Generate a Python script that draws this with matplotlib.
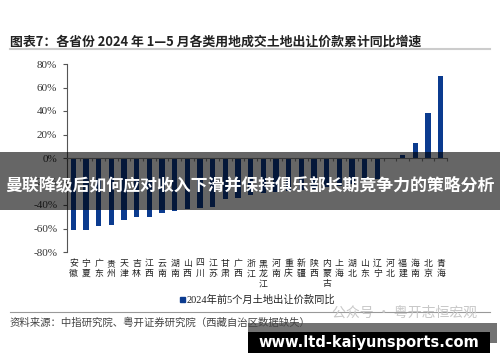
import numpy as np
import matplotlib.pyplot as plt
from matplotlib.patches import Rectangle
from matplotlib.transforms import blended_transform_factory

plt.rcParams['font.family'] = ['Noto Sans CJK SC', 'DejaVu Sans']

# data: 2024年1-5月土地出让价款累计同比 (%)
provinces = ['安徽', '宁夏', '广东', '贵州', '天津', '吉林', '江西', '云南', '湖南', '山西',
             '四川', '江苏', '甘肃', '广西', '浙江', '黑龙江', '河南', '重庆', '新疆', '陕西',
             '内蒙古', '上海', '湖北', '山东', '辽宁', '河北', '福建', '海南', '北京', '青海']
growth = [-61, -61, -57.5, -57, -53, -50.5, -50.5, -46.5, -45, -43,
          -42.5, -42, -35, -34, -31.5, -30, -29, -28, -27, -26,
          -25, -24, -22, -18.5, -18, -1, 2.5, 12.8, 38.5, 69.7]
yticks = [-80, -60, -40, -20, 0, 20, 40, 60, 80]
title = '图表7：各省份 2024 年 1—5 月各类用地成交土地出让价款累计同比增速'
legend_label = '2024年前5个月土地出让价款同比'
source = '资料来源：中指研究院、粤开证券研究院（西藏自治区数据缺失）'

W, H = 500, 362
fig = plt.figure(figsize=(W / 100, H / 100), dpi=100)
fig.patch.set_facecolor('white')

def px(x, y):
    # pixel coords (top-left origin) -> figure fraction
    return x / W, 1 - y / H

ax_left, ax_right, ax_top, ax_bot = 67, 447, 64, 252
ax = fig.add_axes([ax_left / W, 1 - ax_bot / H, (ax_right - ax_left) / W, (ax_bot - ax_top) / H])

x = np.arange(len(provinces))
bar_color = '#0b3b8f'
ax.bar(x, growth, width=0.42, color=bar_color)

ax.set_xlim(-0.5, len(provinces) - 0.5)
ax.set_ylim(-80, 80)
ax.set_yticks(yticks)
ax.set_yticklabels([f'{v}%' for v in yticks], family='Liberation Serif', fontsize=8, color='#333333')
ax.tick_params(axis='y', length=3, width=0.8, pad=4, color='#555555')

for s in ['top', 'right']:
    ax.spines[s].set_visible(False)
ax.spines['left'].set_color('#555555')
ax.spines['bottom'].set_position(('data', 0))
ax.spines['bottom'].set_color('#888888')
ax.set_xticks(np.arange(len(provinces) + 1) - 0.5)
ax.set_xticklabels([])
ax.tick_params(axis='x', length=2.5, width=0.8, color='#888888', direction='out')

# vertical category labels
tr = blended_transform_factory(ax.transData, fig.transFigure)
for i, name in enumerate(provinces):
    ax.text(i, 1 - 259 / H, '\n'.join(name), transform=tr, ha='center', va='top',
            fontsize=6.4, linespacing=1.15, color='#222222')

# legend
fig.patches.append(Rectangle(px(180, 302), 5 / W, 5 / H, transform=fig.transFigure,
                             color=bar_color))
fig.text(*px(187, 299.5), legend_label, fontsize=7.4, va='center', ha='left',
         color='#222222', family=['Liberation Serif', 'Noto Sans CJK SC'])

# title and rules
fig.text(*px(10, 42), title, fontsize=9.3, fontweight='bold', va='center', ha='left', color='#222222')
fig.add_artist(plt.Line2D([10 / W, 490 / W], [1 - 49 / H] * 2, color='#cccccc', lw=1.5))
fig.add_artist(plt.Line2D([10 / W, 490 / W], [1 - 312 / H] * 2, color='#999999', lw=0.8))
fig.text(*px(10, 323), source, fontsize=7.5, va='center', ha='left', color='#444444')

# faint watermark
fig.text(*px(332, 313), '公众号 · 粤开志恒宏观', fontsize=10, va='center', ha='left', color='#c8c8c8')

# dark overlay band with headline
fig.patches.append(Rectangle(px(0, 210), 1, 58 / H, transform=fig.transFigure,
                             color='black', alpha=0.6, lw=0))
fig.text(0.5, 1 - 185 / H, '曼联降级后如何应对收入下滑并保持俱乐部长期竞争力的策略分析',
         fontsize=12.2, fontweight='bold', color='white', ha='center', va='center')

# bottom-right site banner
fig.patches.append(Rectangle(px(248, 343), 249 / W, 20 / H, transform=fig.transFigure,
                             color='black', alpha=0.55, lw=0))
fig.patches.append(Rectangle(px(248, 353), 242 / W, 21 / H, transform=fig.transFigure,
                             color='black', lw=0))
fig.text(*px(369, 342), 'www.ltd-kaiyunsports.com', fontsize=10.5, fontweight='bold',
         color='white', ha='center', va='center', family='DejaVu Sans')

fig.savefig('out.png', dpi=100)
